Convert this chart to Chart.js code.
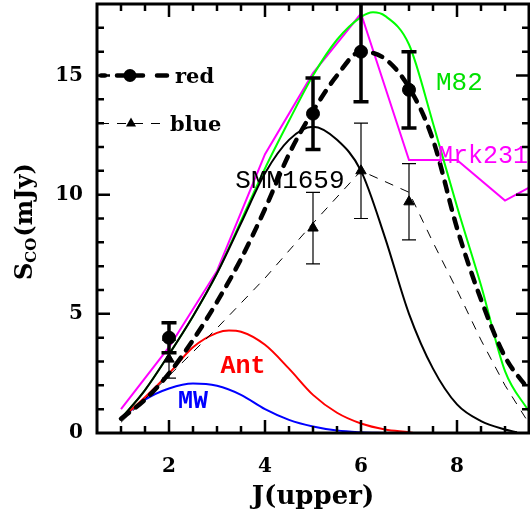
<!DOCTYPE html>
<html><head><meta charset="utf-8">
<script src="https://cdn.jsdelivr.net/npm/chart.js@4/dist/chart.umd.min.js"></script>
<style>html,body{margin:0;padding:0;background:#fff;}canvas{display:block;}</style>
</head><body>
<canvas id="c" width="530" height="518"></canvas>
<script>
// ---- data ----
const smmJ = [1,1.5,2,2.5,3,3.5,4,4.5,5,5.5,6,6.5,7,7.5,8,8.5,9,9.25];
const smmS = [0.6,1.8,3.3,4.9,6.7,8.8,10.9,12.3,12.85,12.3,11.0,8.2,5.0,2.7,1.2,0.5,0.15,0.03];
const m82J = [1,1.5,2,2.5,3,3.5,4,4.5,5,5.5,6,6.25,6.5,7,7.5,8,8.5,9,9.5];
const m82S = [0.6,1.8,3.3,4.9,6.7,8.9,11.1,13.1,15.0,16.5,17.45,17.65,17.5,16.3,13.0,9.5,6.2,2.6,0.9];
const mrkJ = [1,2,3,4,5,6,7,8,9,9.5];
const mrkS = [1.0,3.6,6.8,11.7,15.1,17.6,11.45,11.45,9.75,10.3];
const antJ = [1,1.5,2,2.5,3,3.25,3.5,4,4.5,5,5.5,6,6.5,7,7.1];
const antS = [0.6,1.5,2.5,3.6,4.2,4.3,4.25,3.7,2.7,1.6,0.85,0.4,0.15,0.03,0];
const mwJ = [1,1.5,2,2.5,3,3.5,4,4.5,5,5.5,6,6.5];
const mwS = [0.6,1.4,1.87,2.08,1.98,1.6,1.0,0.55,0.27,0.1,0.03,0];
const redModelJ = [1,1.5,2,2.5,3,3.5,4,4.5,5,5.5,6,6.5,7,7.5,8,8.5,9,9.5];
const redModelS = [0.6,1.4,2.5,3.9,5.5,7.3,9.4,11.7,13.5,15.0,16.0,15.7,14.5,12.3,8.6,5.6,3.2,1.8];
const blueModelJ = [1,2,3,4,5,6,7,7.5,8,8.5,9,9.5];
const blueModelS = [0.45,2.4,4.4,6.5,8.8,11.0,10.1,8.0,6.0,3.9,2.0,0.4];
const redJ = [2,5,6,7];
const redS = [4.0,13.4,16.0,14.4];
const redErr = [0.63,1.5,2.1,1.6];
const blueJ = [2,5,6,7];
const blueS = [3.1,8.6,11.0,9.7];
const blueErr = [0.8,1.5,2.0,1.6];
const xTickLabels = [2,4,6,8];
const yTickLabels = [0,5,10,15];
const curveNames = ['SMM1659','M82','Mrk231','Ant','MW'];
const legendNames = ['red','blue'];

// ---- styling / placement ----
const labelPlaces = [
  {text:curveNames[0], x:4.52, y:10.26, color:'#000', font:'26px "Liberation Mono"'},
  {text:curveNames[1], x:8.05, y:14.41, color:'#00e000', font:'26px "Liberation Mono"'},
  {text:curveNames[2], x:8.54, y:11.31, color:'#ff00ff', font:'25px "Liberation Mono"'},
  {text:curveNames[3], x:3.54, y:2.53, color:'#ff0000', font:'bold 25px "Liberation Mono"'},
  {text:curveNames[4], x:2.5, y:1.05, color:'#0000ff', font:'bold 25px "Liberation Mono"'}
];
const tickFont = {family:'DejaVu Serif', weight:'bold', size:20};
const pts = (xs, ys) => xs.map((x,i)=>({x:x, y:ys[i]}));
const smooth = {pointRadius:0, pointHoverRadius:0, fill:false, cubicInterpolationMode:'monotone', borderWidth:2};
const noPad = s => { s.paddingTop = 0; s.paddingBottom = 0; s.paddingLeft = 0; s.paddingRight = 0; };

const decor = {
  id:'decor',
  afterDatasetsDraw(chart){
    const ctx = chart.ctx, xs = chart.scales.x, ys = chart.scales.y, a = chart.chartArea;
    ctx.save();
    ctx.beginPath(); ctx.rect(a.left, a.top, a.right-a.left, a.bottom-a.top); ctx.clip();
    function bars(J, S, E, lw, cap){
      ctx.strokeStyle = '#000'; ctx.lineWidth = lw; ctx.setLineDash([]);
      J.forEach((j,i)=>{
        const px = xs.getPixelForValue(j);
        const y1 = ys.getPixelForValue(S[i]-E[i]), y2 = ys.getPixelForValue(S[i]+E[i]);
        ctx.beginPath();
        ctx.moveTo(px, y1); ctx.lineTo(px, y2);
        ctx.moveTo(px-cap, y1); ctx.lineTo(px+cap, y1);
        ctx.moveTo(px-cap, y2); ctx.lineTo(px+cap, y2);
        ctx.stroke();
      });
    }
    bars(redJ, redS, redErr, 3.5, 7.5);
    bars(blueJ, blueS, blueErr, 1.2, 7);
    labelPlaces.forEach(l=>{
      ctx.font = l.font; ctx.fillStyle = l.color; ctx.textAlign='center'; ctx.textBaseline='alphabetic';
      ctx.fillText(l.text, xs.getPixelForValue(l.x), ys.getPixelForValue(l.y));
    });
    ctx.restore();
  },
  afterDraw(chart){
    const ctx = chart.ctx, xs = chart.scales.x, ys = chart.scales.y, a = chart.chartArea;
    ctx.save();
    ctx.strokeStyle='#000'; ctx.lineWidth=3; ctx.setLineDash([]);
    ctx.strokeRect(a.left, a.top, a.right-a.left, a.bottom-a.top);
    ctx.lineWidth=2.5;
    ctx.beginPath();
    for (let v = xs.min + 0.5; v < xs.max; v += 0.5){
      const p = xs.getPixelForValue(v);
      const L = xTickLabels.includes(v) ? 13 : 7;
      ctx.moveTo(p, a.bottom); ctx.lineTo(p, a.bottom - L);
      ctx.moveTo(p, a.top); ctx.lineTo(p, a.top + L);
    }
    for (let v = ys.min + 1; v < ys.max; v += 1){
      const p = ys.getPixelForValue(v);
      const L = yTickLabels.includes(v) ? 13 : 7;
      ctx.moveTo(a.left, p); ctx.lineTo(a.left + L, p);
      ctx.moveTo(a.right, p); ctx.lineTo(a.right - L, p);
    }
    ctx.stroke();
    // legend
    const lx = a.left, ly1 = ys.getPixelForValue(15), ly2 = ly1 + 48;
    ctx.strokeStyle='#000'; ctx.fillStyle='#000';
    ctx.lineWidth=4.5; ctx.lineCap='round';
    ctx.beginPath();
    [[lx+4,lx+8],[lx+20,lx+46],[lx+60,lx+70]].forEach(s=>{ctx.moveTo(s[0],ly1); ctx.lineTo(s[1],ly1);});
    ctx.stroke();
    ctx.beginPath(); ctx.arc(lx+33, ly1, 6.5, 0, Math.PI*2); ctx.fill();
    ctx.lineWidth=1; ctx.lineCap='butt'; ctx.setLineDash([9,8]);
    ctx.beginPath(); ctx.moveTo(lx+3,ly2); ctx.lineTo(lx+68,ly2); ctx.stroke();
    ctx.setLineDash([]);
    ctx.beginPath(); ctx.moveTo(lx+34,ly2-6); ctx.lineTo(lx+39,ly2+3); ctx.lineTo(lx+29,ly2+3); ctx.closePath(); ctx.fill();
    ctx.font='bold 21px "DejaVu Serif"'; ctx.textAlign='left'; ctx.textBaseline='alphabetic';
    ctx.fillText(legendNames[0], lx+78, ly1+7);
    ctx.fillText(legendNames[1], lx+73, ly2+7);
    // x title
    ctx.font='bold 26px "DejaVu Serif"'; ctx.textAlign='center';
    ctx.fillText('J(upper)', (a.left+a.right)/2, 504);
    // y title
    ctx.translate(32, 280); ctx.rotate(-Math.PI/2);
    ctx.textAlign='left';
    ctx.font='bold 24px "DejaVu Serif"';
    ctx.fillText('S', 0, 0);
    let w = ctx.measureText('S').width;
    ctx.font='bold 15px "DejaVu Serif"';
    ctx.fillText('CO', w, 4);
    w += ctx.measureText('CO').width + 1;
    ctx.font='bold 24px "DejaVu Serif"';
    ctx.fillText('(mJy)', w, 0);
    ctx.restore();
  }
};

new Chart(document.getElementById('c'), {
  type:'line',
  data:{datasets:[
    {label:legendNames[0], data:pts(redJ,redS), showLine:false, pointStyle:'circle', pointRadius:6.5, backgroundColor:'#000', borderColor:'#000'},
    {label:legendNames[1], data:pts(blueJ,blueS), showLine:false, pointStyle:'triangle', pointRadius:6, backgroundColor:'#000', borderColor:'#000'},
    {label:'red model', data:pts(redModelJ,redModelS), ...smooth, borderColor:'#000', borderWidth:4.5, borderDash:[10,9], borderCapStyle:'round'},
    {label:'blue model', data:pts(blueModelJ,blueModelS), pointRadius:0, fill:false, tension:0, borderColor:'#000', borderWidth:1, borderDash:[9,8]},
    {label:curveNames[0], data:pts(smmJ,smmS), ...smooth, borderColor:'#000'},
    {label:curveNames[1], data:pts(m82J,m82S), ...smooth, borderColor:'#00ff00'},
    {label:curveNames[2], data:pts(mrkJ,mrkS), pointRadius:0, fill:false, tension:0, borderWidth:2, borderColor:'#ff00ff'},
    {label:curveNames[3], data:pts(antJ,antS), ...smooth, borderColor:'#ff0000'},
    {label:curveNames[4], data:pts(mwJ,mwS), ...smooth, borderColor:'#0000ff'}
  ]},
  options:{
    responsive:false, animation:false, events:[],
    layout:{autoPadding:false, padding:{top:4, right:1, left:0, bottom:0}},
    plugins:{legend:{display:false}, tooltip:{enabled:false}},
    scales:{
      x:{type:'linear', min:0.5, max:9.5,
        afterBuildTicks:s=>{s.ticks = xTickLabels.map(v=>({value:v}));},
        afterFit:s=>{s.height = 85; noPad(s);},
        grid:{display:false, drawTicks:false}, border:{display:false},
        ticks:{padding:22, color:'#000', font:tickFont, maxRotation:0}},
      y:{type:'linear', min:0, max:18,
        afterBuildTicks:s=>{s.ticks = yTickLabels.map(v=>({value:v}));},
        afterFit:s=>{s.width = 97; noPad(s);},
        grid:{display:false, drawTicks:false}, border:{display:false},
        ticks:{padding:14, color:'#000', font:tickFont}}
    }
  },
  plugins:[decor]
});
</script>
</body></html>
